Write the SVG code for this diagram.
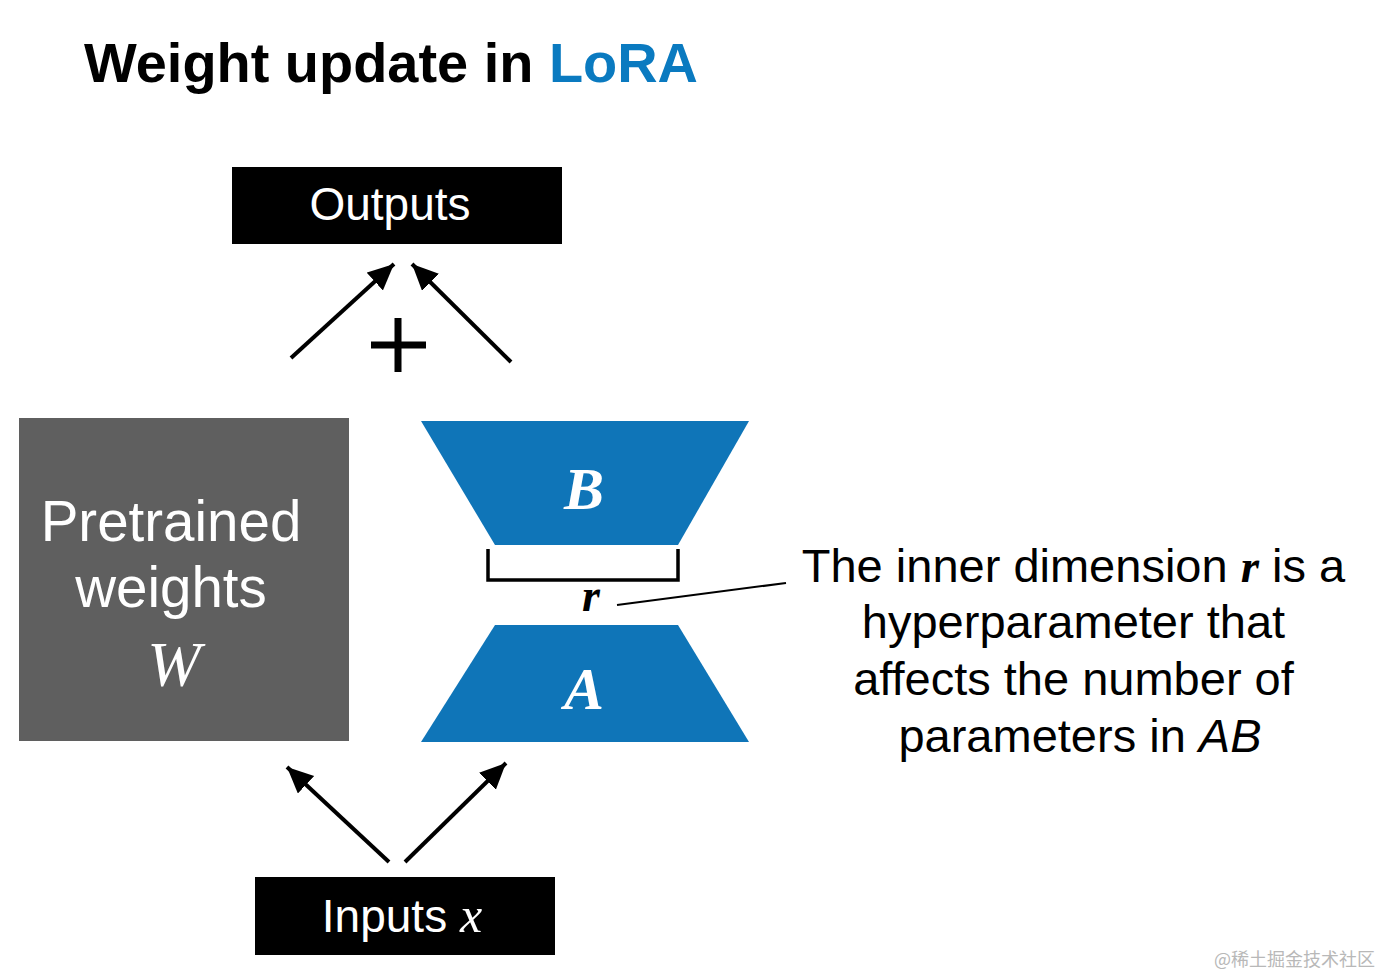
<svg xmlns="http://www.w3.org/2000/svg" width="1382" height="976" viewBox="0 0 1382 976">
<defs>
<marker id="ah" markerUnits="userSpaceOnUse" markerWidth="30" markerHeight="30" refX="26" refY="12" orient="auto">
<path d="M0,0 L26,12 L0,24 Z" fill="#000"/>
</marker>
<style>
.sans{font-family:"Liberation Sans",Arial,Helvetica,sans-serif}
.math{font-family:"Liberation Serif","Times New Roman",serif;font-style:italic}
.conn{stroke:#000;stroke-width:4;fill:none;marker-end:url(#ah)}
.blue{fill:#0f75b8}
</style>
</defs>
<rect width="1382" height="976" fill="#fff"/>
<text class="sans" x="84" y="82" font-size="55" font-weight="bold" fill="#000" textLength="614" lengthAdjust="spacingAndGlyphs">Weight update in <tspan fill="#0a7ac0">LoRA</tspan></text>

<g id="outputs">
<rect x="232" y="167" width="330" height="77" fill="#000"/>
<text class="sans" x="390" y="220" font-size="46" fill="#fff" text-anchor="middle">Outputs</text>
</g>

<g id="pretrained">
<rect x="19" y="418" width="330" height="323" fill="#5f5f5f"/>
<text class="sans" x="171" y="541" font-size="56.5" fill="#fff" text-anchor="middle">Pretrained</text>
<text class="sans" x="171" y="607" font-size="56.5" fill="#fff" text-anchor="middle">weights</text>
<text class="math" x="174" y="686" font-size="64" fill="#fff" text-anchor="middle">W</text>
</g>

<g id="B">
<polygon class="blue" points="421,421 749,421 678,545 495,545"/>
<text class="math" x="584" y="509" font-size="60" font-weight="bold" fill="#fff" text-anchor="middle">B</text>
</g>

<g id="A">
<polygon class="blue" points="495,625 678,625 749,742 421,742"/>
<text class="math" x="584" y="709" font-size="60" font-weight="bold" fill="#fff" text-anchor="middle">A</text>
</g>

<g id="rank">
<path d="M488,549 V580 H678 V549" stroke="#000" stroke-width="3.5" fill="none"/>
<text class="math" x="591" y="611" font-size="46" font-weight="bold" fill="#000" text-anchor="middle">r</text>
</g>

<g id="inputs">
<rect x="255" y="877" width="300" height="78" fill="#000"/>
<text class="sans" x="402" y="932" font-size="46" fill="#fff" text-anchor="middle">Inputs <tspan class="math" font-size="50">x</tspan></text>
</g>

<g id="plus">
<path d="M371,345 H426 M398,318 V372" stroke="#000" stroke-width="7"/>
</g>

<g id="note">
<text class="sans" font-size="47" fill="#000" text-anchor="middle">
<tspan x="1080" y="582">The inner dimension <tspan class="math" font-weight="bold">r</tspan> is a</tspan>
<tspan x="1080" y="638">hyperparameter that</tspan>
<tspan x="1080" y="695">affects the number of</tspan>
<tspan x="1080" y="752">parameters in <tspan font-style="italic">AB</tspan></tspan>
</text>
</g>

<g id="connectors">
<line class="conn" x1="291" y1="358" x2="394" y2="264"/>
<line class="conn" x1="511" y1="362" x2="412" y2="264"/>
<line class="conn" x1="389" y1="862" x2="287" y2="767"/>
<line class="conn" x1="405" y1="862" x2="506" y2="763"/>
<line x1="617" y1="605" x2="786" y2="583" stroke="#000" stroke-width="2"/>
</g>

<text x="1375" y="966" font-size="18" fill="#b8b8b8" text-anchor="end" font-family="'Noto Sans CJK SC',sans-serif">@稀土掘金技术社区</text>
</svg>
